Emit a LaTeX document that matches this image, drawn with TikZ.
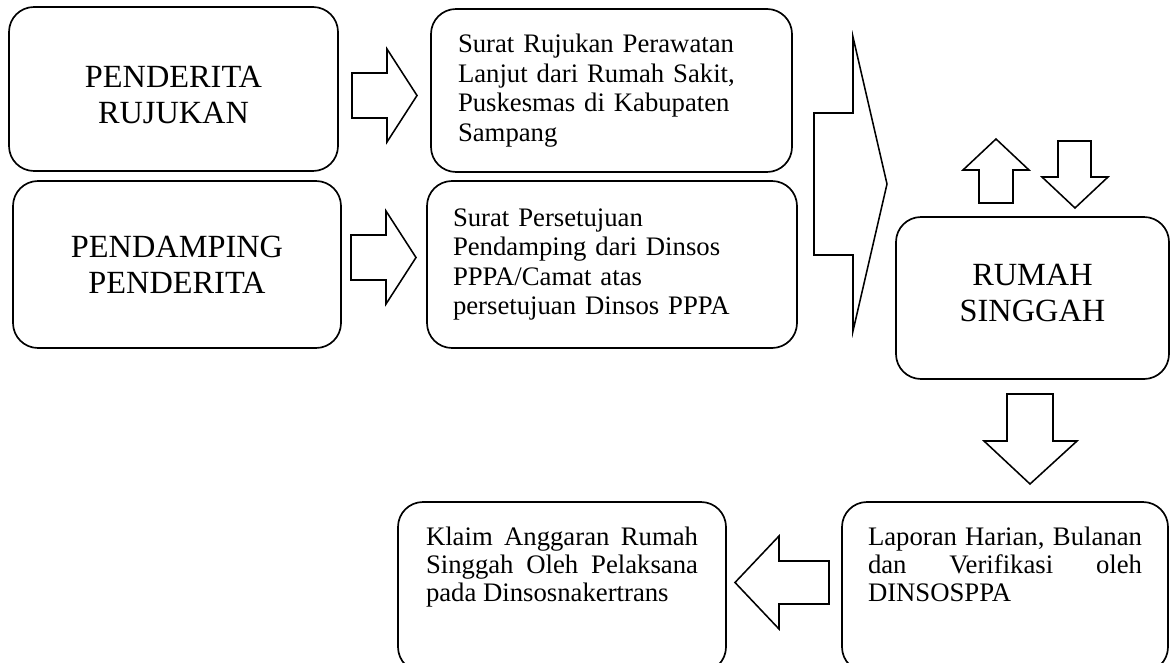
\documentclass[tikz,border=0pt]{standalone}
\usepackage{fontspec}
\setmainfont{Liberation Serif}
\newlength\px
\setlength\px{0.025cm}
% geser teks dalam kotak tanpa mengubah ukurannya
\newcommand{\geser}[2]{\raisebox{#1}[\height][\depth]{\parbox{260\px}{\centering #2}}}
\begin{document}
\begin{tikzpicture}[x=1\px, y=-1\px,
    box/.style={draw, line width=1.2pt, rounded corners=25\px, inner sep=0pt},
    bigtext/.style={font=\fontsize{23}{25.6}\selectfont, align=center},
    smalltext/.style={font=\fontsize{19}{21}\selectfont, align=left},
    blk/.style={draw, line width=1.1pt, line join=miter}]
    \clip (0,0) rectangle (1170,663);
    % kotak kiri
    \node[box, bigtext, minimum width=329\px, minimum height=164\px] (rujukan) at (173.5,89) {\geser{-6\px}{PENDERITA\\RUJUKAN}};
    \node[box, bigtext, minimum width=328\px, minimum height=167\px] (pendamping) at (177,264.5) {PENDAMPING\\PENDERITA};
    % surat
    \node[box, smalltext, minimum width=361\px, minimum height=163\px, text width=307\px] (srujukan) at (611.5,90.5)
        {Surat Rujukan Perawatan\\Lanjut dari Rumah Sakit,\\Puskesmas di Kabupaten\\Sampang};
    \node[box, smalltext, minimum width=370\px, minimum height=167\px, text width=318\px] (ssetuju) at (612,264.5)
        {Surat Persetujuan\\Pendamping dari Dinsos\\PPPA/Camat atas\\persetujuan Dinsos PPPA};
    \node[box, bigtext, minimum width=273\px, minimum height=162\px] (singgah) at (1032.5,298) {\geser{5\px}{RUMAH\\SINGGAH}};
    % bawah
    \node[box, font=\fontsize{19}{20}\selectfont, inner xsep=28\px, inner ysep=25\px] (klaim) at (562,587)
        {\parbox[c][120\px][t]{272\px}{Klaim Anggaran Rumah\linebreak Singgah Oleh Pelaksana\linebreak pada Dinsosnakertrans}};
    \node[box, font=\fontsize{19}{20}\selectfont, inner xsep=26\px, inner ysep=25\px] (laporan) at (1005,587)
        {\parbox[c][120\px][t]{274\px}{Laporan Harian, Bulanan\linebreak dan Verifikasi oleh\linebreak DINSOSPPA}};
    % panah blok
    \draw[blk] (352,73) -- (387,73) -- (387,49) -- (417,95.5) -- (387,142) -- (387,118) -- (352,118) -- cycle;
    \draw[blk] (351,235) -- (386,235) -- (386,211) -- (416,257.5) -- (386,304) -- (386,280) -- (351,280) -- cycle;
    \draw[blk] (814,113) -- (853,113) -- (853,37) -- (887,184) -- (853,331) -- (853,255) -- (814,255) -- cycle;
    \draw[blk] (979,203) -- (979,170) -- (963,170) -- (996,139) -- (1029,170) -- (1013,170) -- (1013,203) -- cycle;
    \draw[blk] (1058,141) -- (1091,141) -- (1091,177) -- (1108,177) -- (1075,208) -- (1042,177) -- (1058,177) -- cycle;
    \draw[blk] (1007,394) -- (1053,394) -- (1053,441) -- (1077,441) -- (1030,484) -- (984,441) -- (1007,441) -- cycle;
    \draw[blk] (829,561) -- (779,561) -- (779,536) -- (735,582.5) -- (779,629) -- (779,604) -- (829,604) -- cycle;
\end{tikzpicture}
\end{document}
